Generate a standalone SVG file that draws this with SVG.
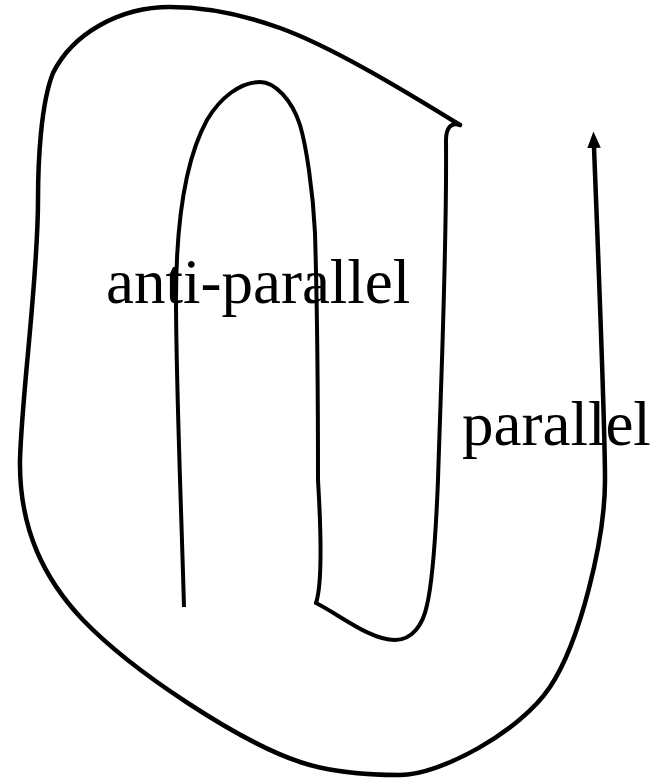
<svg xmlns="http://www.w3.org/2000/svg" width="664" height="781" viewBox="0 0 664 781">
  <style>
    .ln { fill: none; stroke: #000; stroke-width: 4; stroke-linejoin: round; }
    .outer { stroke-width: 4.5; stroke-linecap: round; }
    .lbl { font-family: "Liberation Serif", "Times New Roman", serif; font-size: 63px; fill: #000; }
  </style>
  <defs>
    <marker id="arrow" markerUnits="userSpaceOnUse" viewBox="0 -8 18 16" refX="1" refY="0" markerWidth="18" markerHeight="16" orient="auto">
      <path d="M0,-6.8 L16.5,0 L0,6.8 Z" fill="#000"/>
    </marker>
  </defs>
  <g id="strand">
    <path id="inner-arch" class="ln" d="M 184,607 C 181,500 176,380 176,300 C 176,220 185,160 207,120 C 220,98 240,82 260,82 C 275,82 292,100 300,125 C 306,145 313,190 315,233 C 317,300 318,420 318,480 C 321,530 322,585 316,603"/>
    <path id="hook" class="ln" stroke-linecap="round" d="M 316,603 C 340,615 370,640 395,640 C 412,640 423,625 427,605 C 433,580 436,530 438,480 C 441,380 447,250 446,140 C 446,128 451,122 460,125"/>
    <path id="outer-loop" class="ln outer" marker-end="url(#arrow)" d="M 460,125 C 400,88 330,46 280,28 C 244,15 205,7 170,7 C 120,7 73,33 53,73 C 41,103 38,160 38,200 C 38,280 22,390 20,460 C 19,530 45,580 83,620 C 133,672 240,742 300,762 C 330,772 370,775 400,775 C 440,775 520,732 550,687 C 580,642 605,540 605,480 C 605,420 596,200 594,147"/>
  </g>
  <g id="labels">
    <text id="label-anti-parallel" class="lbl" x="106" y="303">anti-parallel</text>
    <text id="label-parallel" class="lbl" x="462" y="445">parallel</text>
  </g>
</svg>
